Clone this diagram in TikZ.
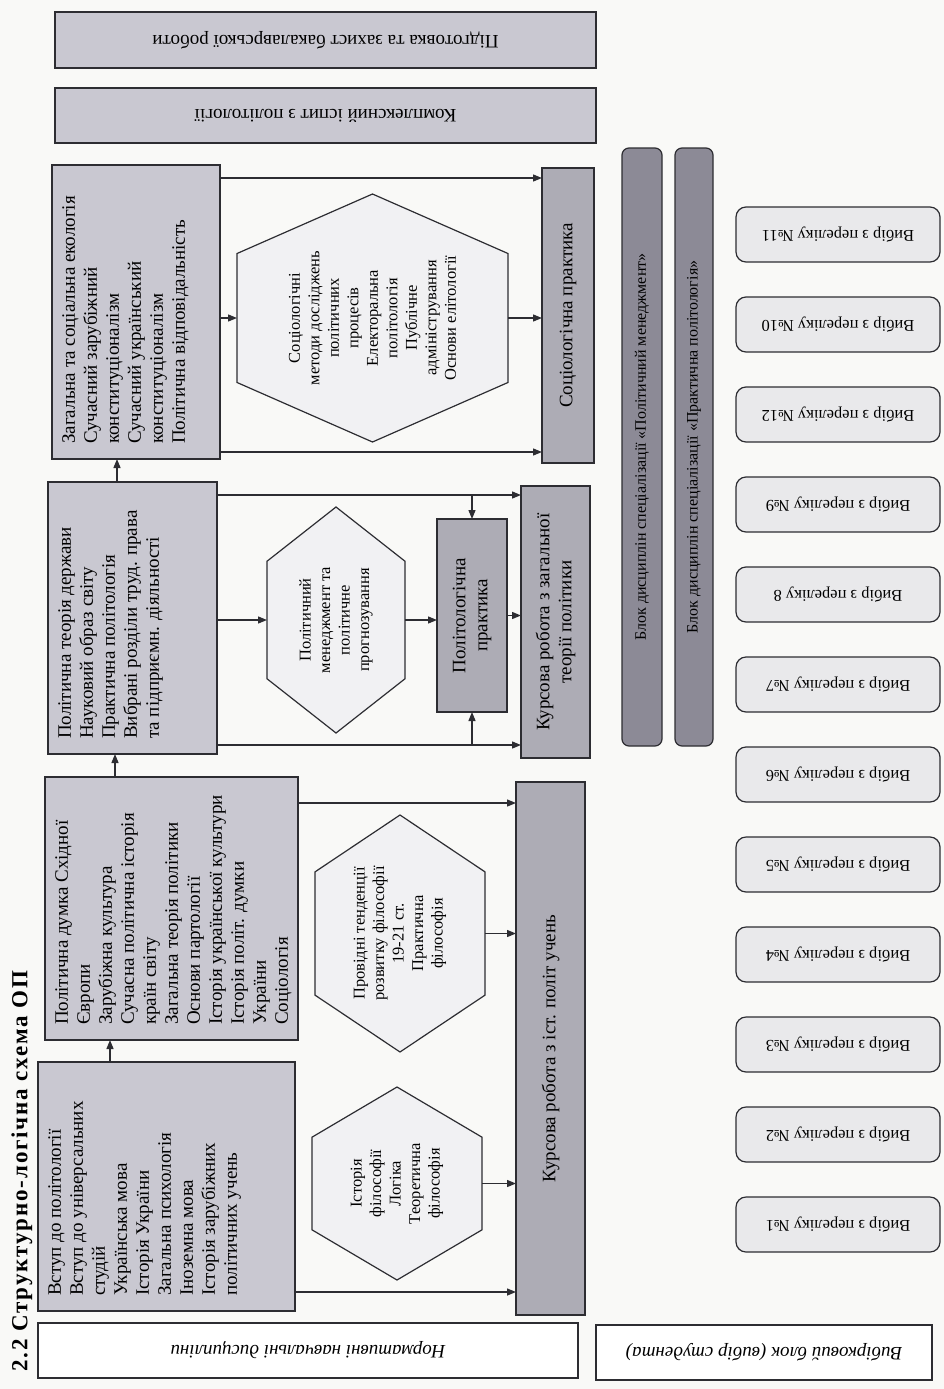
\documentclass[tikz,border=0pt]{standalone}
\usepackage{fontspec}
\setmainfont{Liberation Serif}
\usetikzlibrary{arrows.meta,calc}
\definecolor{bgc}{RGB}{249,249,247}
\definecolor{boxc}{RGB}{201,200,209}
\definecolor{kc}{RGB}{173,172,181}
\definecolor{barc}{RGB}{140,138,150}
\definecolor{vybc}{RGB}{233,233,235}
\definecolor{hexc}{RGB}{241,241,243}
\definecolor{linec}{RGB}{45,45,50}
\newcommand\fsMain{\fontsize{19}{22}\selectfont}
\newcommand\fsHex{\fontsize{16.5}{19.5}\selectfont}
\newcommand\fsVyb{\fontsize{16.5}{19}\selectfont}
\newcommand\fsBar{\fontsize{16}{18}\selectfont}
\newcommand\fsTitle{\fontsize{23}{26}\selectfont\bfseries\addfontfeature{LetterSpace=8}}
\newcommand\hexdraw[2]{%
  \draw[hexline] (#1.north) -- ($(#1.north east)!#2!(#1.south east)$) -- ($(#1.south east)!#2!(#1.north east)$) -- (#1.south) -- ($(#1.south west)!#2!(#1.north west)$) -- ($(#1.north west)!#2!(#1.south west)$) -- cycle;}
\begin{document}
\begin{tikzpicture}[x=1pt,y=-1pt,
  box/.style={draw=linec, line width=1.4pt, fill=boxc, inner sep=0pt, outer sep=0pt, anchor=north west},
  kbox/.style={box, fill=kc},
  wbox/.style={box, fill=white, line width=1.2pt},
  barbox/.style={box, fill=barc, line width=1.2pt, rounded corners=7pt},
  vybbox/.style={draw=linec, line width=1.2pt, fill=vybc, rounded corners=10pt, minimum width=204pt, minimum height=55pt, inner sep=0pt, outer sep=0pt},
  hexarea/.style={draw=none, inner sep=0pt, outer sep=0pt},
  hexline/.style={draw=linec, line width=1.2pt, fill=hexc},
  vtxt/.style={rotate=90, align=left, font=\fsMain, inner sep=0pt, anchor=north west},
  ctxt/.style={rotate=90, align=center, font=\fsMain, inner sep=0pt},
  htxt/.style={rotate=90, align=center, font=\fsHex, inner sep=0pt},
  arr/.style={draw=linec, line width=1.3pt, -{Triangle[length=9pt,width=7pt]}},
  ln/.style={draw=linec, line width=1.3pt}]
\useasboundingbox (0,0) rectangle (944,1389);
\fill[bgc] (0,0) rectangle (944,1389);

% title
\node[rotate=90, font=\fsTitle, inner sep=0pt] (title) at (22,1171) {2.2 Структурно-логічна схема ОП};

% top boxes
\node[box, minimum width=541pt, minimum height=56pt] (T1) at (55,12) {};
\node[rotate=180, font=\fsMain] (T1t) at (T1.center) {Підготовка та захист бакалаврської роботи};
\node[box, minimum width=541pt, minimum height=55pt] (T2) at (55,88) {};
\node[rotate=180, font=\fsMain] (T2t) at (T2.center) {Комплексний іспит з політології};

% main column boxes
\node[box, minimum width=168pt, minimum height=294pt] (D) at (52,165) {};
\node[box, minimum width=169pt, minimum height=272pt] (C) at (48,482) {};
\node[box, minimum width=253pt, minimum height=263pt] (B) at (45,777) {};
\node[box, minimum width=257pt, minimum height=249pt] (A) at (38,1062) {};

\node[vtxt] (Dt) at ([shift={(10pt,15pt)}]D.south west) {Загальна та соціальна екологія\\Сучасний зарубіжний\\конституціоналізм\\Сучасний український\\конституціоналізм\\Політична відповідальність};
\node[vtxt] (Ct) at ([shift={(10pt,15pt)}]C.south west) {Політична теорія держави\\Науковий образ світу\\Практична політологія\\Вибрані розділи труд. права\\та підприємн. діяльності};
\node[vtxt] (Bt) at ([shift={(10pt,15pt)}]B.south west) {Політична думка Східної\\Європи\\Зарубіжна культура\\Сучасна політична історія\\країн світу\\Загальна теорія політики\\Основи партології\\Історія української культури\\Історія політ. думки\\України\\Соціологія};
\node[vtxt] (At) at ([shift={(10pt,15pt)}]A.south west) {Вступ до політології\\Вступ до універсальних\\студій\\Українська мова\\Історія України\\Загальна психологія\\Іноземна мова\\Історія зарубіжних\\політичних учень};

% hexagons
\node[hexarea, minimum width=271pt, minimum height=248pt] (h4) at (372.5,318) {};
\hexdraw{h4}{0.24}
\node[htxt] (h4t) at (h4.center) {Соціологічні\\методи досліджень\\політичних\\процесів\\Електоральна\\політологія\\Публічне\\адміністрування\\Основи елітології};
\node[hexarea, minimum width=138pt, minimum height=226pt] (h3) at (336,620) {};
\hexdraw{h3}{0.24}
\node[htxt] (h3t) at (h3.center) {Політичний\\менеджмент та\\політичне\\прогнозування};
\node[hexarea, minimum width=170pt, minimum height=237pt] (h2) at (400,933.5) {};
\hexdraw{h2}{0.24}
\node[htxt] (h2t) at (h2.center) {Провідні тенденції\\розвитку філософії\\19-21 ст.\\Практична\\філософія};
\node[hexarea, minimum width=170pt, minimum height=193pt] (h1) at (397,1183.5) {};
\hexdraw{h1}{0.26}
\node[htxt] (h1t) at (h1.center) {Історія\\філософії\\Логіка\\Теоретична\\філософія};

% right gray boxes
\node[kbox, minimum width=52pt, minimum height=295pt] (SP) at (542,168) {};
\node[ctxt] (SPt) at (SP.center) {Соціологічна практика};
\node[kbox, minimum width=70pt, minimum height=193pt] (PP) at (437,519) {};
\node[ctxt] (PPt) at (PP.center) {Політологічна\\практика};
\node[kbox, minimum width=69pt, minimum height=272pt] (K2) at (521,486) {};
\node[ctxt] (K2t) at (K2.center) {Курсова робота з загальної\\теорії політики};
\node[kbox, minimum width=69pt, minimum height=533pt] (K1) at (516,782) {};
\node[ctxt] (K1t) at (K1.center) {Курсова робота з іст. політ учень};

% bars
\node[barbox, minimum width=40pt, minimum height=598pt] (bar1) at (622,148) {};
\node[rotate=90, font=\fsBar] (bar1t) at (bar1.center) {Блок дисциплін спеціалізації «Політичний менеджмент»};
\node[barbox, minimum width=38pt, minimum height=598pt] (bar2) at (675,148) {};
\node[rotate=90, font=\fsBar] (bar2t) at (bar2.center) {Блок дисциплін спеціалізації «Практична політологія»};

% choice boxes
\foreach \lab [count=\i from 0] in {№11,№10,№12,№9,8,№7,№6,№5,№4,№3,№2,№1}{
  \node[vybbox] (v\i) at (838,234.5+90*\i) {};
  \node[rotate=180, font=\fsVyb] (v\i t) at (v\i.center) {Вибір з переліку \lab};
}

% bottom label boxes
\node[wbox, minimum width=540pt, minimum height=55pt] (N) at (38,1323) {};
\node[rotate=180, font=\fsMain\itshape] (Nt) at (N.center) {Нормативні навчальні дисципліни};
\node[wbox, minimum width=336pt, minimum height=55pt] (V) at (596,1325) {};
\node[rotate=180, font=\fsMain\itshape] (Vt) at (V.center) {Вибірковий блок (вибір студента)};

% vertical arrows between columns
\coordinate (ab) at ([xshift=72pt]A.north west);
\draw[arr] (ab) -- (ab |- B.south);
\coordinate (bc) at ([xshift=70pt]B.north west);
\draw[arr] (bc) -- (bc |- C.south);
\coordinate (cd) at ([xshift=69pt]C.north west);
\draw[arr] (cd) -- (cd |- D.south);

% column D connectors
\coordinate (d1) at ([yshift=-13pt]D.north east);
\draw[arr] (d1) -- (d1 -| SP.west);
\coordinate (d2) at ([yshift=7pt]D.south east);
\draw[arr] (d2) -- (d2 -| SP.west);
\draw[arr] (D.east |- h4.west) -- (h4.west);
\draw[arr] (h4.east) -- (h4.east -| SP.west);

% column C connectors
\coordinate (c1) at ([yshift=-13pt]C.north east);
\draw[arr] (c1) -- (c1 -| K2.west);
\draw[arr] (c1 -| PP.north) -- (PP.north);
\coordinate (c2) at ([yshift=9pt]C.south east);
\draw[arr] (c2) -- (c2 -| K2.west);
\draw[arr] (c2 -| PP.south) -- (PP.south);
\draw[arr] (C.east |- h3.west) -- (h3.west);
\draw[arr] (h3.east) -- (h3.east -| PP.west);
\draw[arr] (PP.east) -- (PP.east -| K2.west);

% column B and A connectors
\coordinate (b1) at ([yshift=-26pt]B.north east);
\draw[arr] (b1) -- (b1 -| K1.west);
\draw[arr] (h2.east) -- (h2.east -| K1.west);
\draw[arr] (h1.east) -- (h1.east -| K1.west);
\coordinate (a1) at ([yshift=19pt]A.south east);
\draw[arr] (a1) -- (a1 -| K1.west);
\end{tikzpicture}
\end{document}
